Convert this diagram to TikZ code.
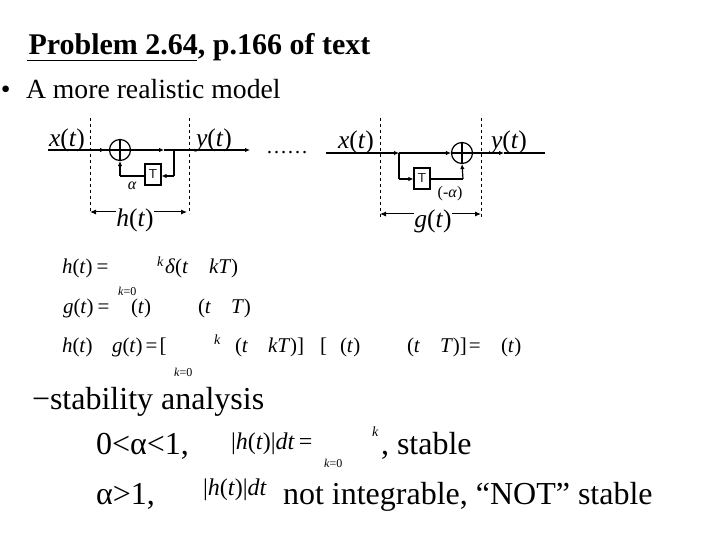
\documentclass[tikz,border=0pt]{standalone}
\usepackage{fontspec}
\setmainfont{Liberation Serif}
\usetikzlibrary{arrows.meta}
\newcommand{\fs}[1]{\fontsize{#1}{#1}\selectfont}
\tikzset{
  txt/.style={anchor=base west,inner sep=0pt,outer sep=0pt,text=black},
  ctr/.style={anchor=base,inner sep=0pt,outer sep=0pt,text=black},
  sig/.style={txt,font=\fs{25.5}},
  eq/.style={txt,font=\fs{21}\itshape},
  sub/.style={txt,font=\fs{12}\itshape},
  sup/.style={txt,font=\fs{14}\itshape},
  body/.style={txt,font=\fs{32}},
  wire/.style={line width=1.2pt,draw=black},
  flow/.style={wire,-{Latex[length=5pt,width=4.5pt]}},
  sumnode/.style={circle,draw=black,line width=1.2pt,minimum size=21pt,inner sep=0pt},
  tbox/.style={draw=black,line width=1.2pt,minimum width=16pt,minimum height=21pt,inner sep=0pt,font=\sffamily\fs{13}},
  bound/.style={dashed,line width=0.6pt,draw=black},
  span/.style={line width=1pt,draw=black,-{Latex[length=6pt,width=5pt]}}
}
\begin{document}
\begin{tikzpicture}[x=1pt,y=-1pt]
\useasboundingbox (0,0) rectangle (720,540);
\fill[white] (0,0) rectangle (720,540);
% heading
\node[txt,font=\fs{30}\bfseries] (title) at (28.5,55) {Problem 2.64, p.166 of text};
\coordinate (ulA) at (27,60.5); \coordinate (ulB) at (197,60.5);
\draw[line width=1pt] (ulA) -- (ulB);
\node[txt,font=\fs{27.7}] (bul) at (1,99) {•};
\node[txt,font=\fs{27.7}] (sub1) at (26,99) {A more realistic model};
% left block
\node[sumnode] (sumL) at (120,150) {};
\draw[wire] (sumL.north) -- (sumL.south) (sumL.west) -- (sumL.east);
\node[tbox] (tL) at (153,174.5) {T};
\coordinate (inL) at (48,150); \coordinate (midL) at (105,150);
\coordinate (m2L) at (164,150); \coordinate (jL) at (174,150);
\coordinate (outL) at (250,150); \coordinate (dnL) at (174,176);
\coordinate (upL) at (120,176);
\draw[wire] (inL) -- (sumL.west);
\draw[flow] (inL) -- (midL);
\draw[flow] (sumL.east) -- (m2L);
\draw[flow] (m2L) -- (outL);
\draw[wire] (jL) -- (dnL);
\draw[flow] (dnL) -- (tL.east |- dnL);
\draw[wire] (tL.west |- upL) -- (upL);
\draw[flow] (upL) -- (sumL.south);
\node[sig] (xL) at (49,147) {\textit{x}(\textit{t})};
\node[sig] (yL) at (196,147) {\textit{y}(\textit{t})};
\node[ctr,font=\fs{16}\itshape] (aL) at (132,190) {α};
\coordinate (bLa) at (90,118); \coordinate (bLb) at (90,214);
\coordinate (bLc) at (189,118); \coordinate (bLd) at (189,214);
\draw[bound] (bLa) -- (bLb);
\draw[bound] (bLc) -- (bLd);
\node[ctr,font=\fs{25.5}] (hL) at (135,226) {\textit{h}(\textit{t})};
\draw[span] (hL.west |- 0,212) -- (bLa |- 0,212);
\draw[span] (hL.east |- 0,212) -- (187,212);
\node[txt,font=\fs{21}] (dots) at (266,154) {……};
% right block
\node[sumnode] (sumR) at (462,153) {};
\draw[wire] (sumR.north) -- (sumR.south) (sumR.west) -- (sumR.east);
\node[tbox] (tR) at (422,178.5) {T};
\coordinate (inR) at (326,153); \coordinate (jR) at (399,153);
\coordinate (m2R) at (445,153); \coordinate (m3R) at (504,153);
\coordinate (outR) at (545,153); \coordinate (dnR) at (399,179);
\coordinate (upR) at (463,179);
\draw[flow] (inR) -- (jR);
\draw[flow] (jR) -- (sumR.west);
\draw[flow] (sumR.east) -- (m3R);
\draw[wire] (m3R) -- (outR);
\draw[wire] (jR) -- (dnR);
\draw[flow] (dnR) -- (tR.west |- dnR);
\draw[wire] (tR.east |- upR) -- (upR);
\draw[flow] (upR) -- (sumR.south);
\node[sig] (xR) at (338,149) {\textit{x}(\textit{t})};
\node[sig] (yR) at (491,149) {\textit{y}(\textit{t})};
\node[ctr,font=\fs{16}] (aR) at (450,198) {(-\textit{α})};
\coordinate (bRa) at (380,118); \coordinate (bRb) at (380,218);
\coordinate (bRc) at (481,118); \coordinate (bRd) at (481,218);
\draw[bound] (bRa) -- (bRb);
\draw[bound] (bRc) -- (bRd);
\node[ctr,font=\fs{25.5}] (gR) at (433,228) {\textit{g}(\textit{t})};
\draw[span] (gR.west |- 0,214) -- (bRa |- 0,214);
\draw[span] (gR.east |- 0,214) -- (bRc |- 0,214);
% equations
\node[eq] (e1a) at (62,273) {h\textup{(}t\textup{)}\hspace{4pt}\textup{=}};
\node[sup] (e1k) at (157,266) {k};
\node[eq] (e1b) at (165,273) {δ\textup{(}t};
\node[eq] (e1c) at (209,273) {kT\textup{)}};
\node[sub] (e1s) at (118,295) {k\textup{=0}};
\node[eq] (e2a) at (63,313) {g\textup{(}t\textup{)}\hspace{4pt}\textup{=}};
\node[eq] (e2b) at (131,313) {\textup{(}t\textup{)}};
\node[eq] (e2c) at (198,313) {\textup{(}t};
\node[eq] (e2d) at (231,313) {T\textup{)}};
\node[eq] (e3a) at (62,352) {h\textup{(}t\textup{)}};
\node[eq] (e3b) at (112,352) {g\textup{(}t\textup{)}\hspace{3pt}\textup{=}\hspace{2pt}\textup{[}};
\node[sup] (e3k) at (214,344) {k};
\node[eq] (e3c) at (235,352) {\textup{(}t};
\node[eq] (e3d) at (268,352) {kT\textup{)]}};
\node[eq] (e3e) at (320,352) {\textup{[}};
\node[eq] (e3f) at (340,352) {\textup{(}t\textup{)}};
\node[eq] (e3g) at (407,352) {\textup{(}t};
\node[eq] (e3h) at (440,352) {T\textup{)]}\hspace{2pt}\textup{=}};
\node[eq] (e3i) at (501,352) {\textup{(}t\textup{)}};
\node[sub] (e3s) at (174,376) {k\textup{=0}};
% stability
\node[body] (st) at (32,409) {−stability analysis};
\node[body] (c1) at (96,454) {0<α<1,};
\node[txt,font=\fs{24}\itshape] (i1) at (231,449) {\textup{|}h\textup{(}t\textup{)|}dt\hspace{4pt}\textup{=}};
\node[sup] (i1k) at (372,436) {k};
\node[sub] (i1s) at (324,467) {k\textup{=0}};
\node[body] (c1b) at (381,454) {, stable};
\node[body] (c2) at (96,504) {α>1,};
\node[txt,font=\fs{24}\itshape] (i2) at (203,495) {\textup{|}h\textup{(}t\textup{)|}dt};
\node[body] (c2b) at (283,504) {not integrable, “NOT” stable};
\end{tikzpicture}
\end{document}
